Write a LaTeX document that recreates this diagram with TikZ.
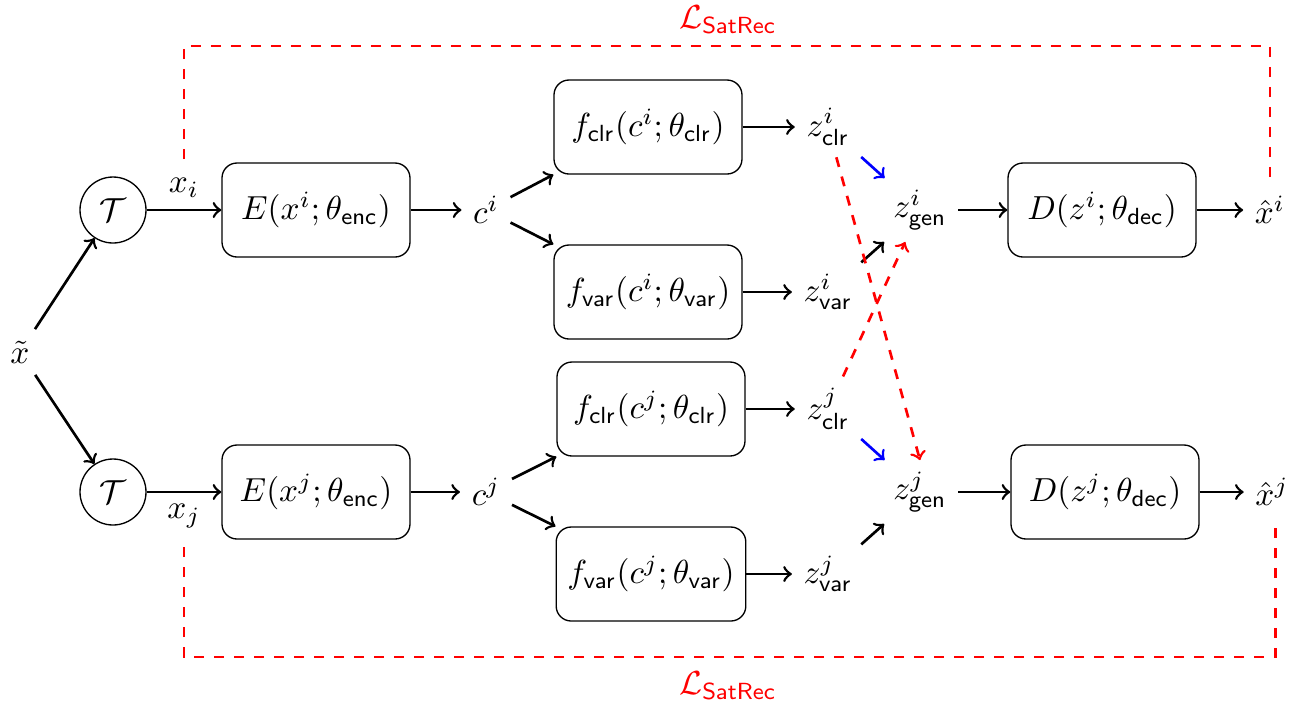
\documentclass[tikz,border=0pt]{standalone}
\usepackage{amsmath}
\begin{document}
\begin{tikzpicture}[x=0.3pt,y=-0.3pt,
  box/.style={draw, rounded corners=4.5pt, minimum width=56.4pt, minimum height=28.2pt, line width=0.4pt},
  circ/.style={draw, circle, minimum size=19.8pt, inner sep=0pt, line width=0.4pt},
  arr/.style={->, line width=0.8pt},
  blarr/.style={->, blue, line width=0.8pt},
  loss/.style={red, dashed, line width=0.8pt},
  lossarr/.style={->, red, dashed, line width=0.8pt}]
\useasboundingbox (0,0) rectangle (1301,701);

\node (xt) at (20,352) {$\tilde{x}$};
\node[circ] (T1) at (113,210) {$\mathcal{T}$};
\node[circ] (T2) at (113,492) {$\mathcal{T}$};

\node[box] (E1) at (316,210) {$E(x^i;\theta_{\mathsf{enc}})$};
\node[box] (E2) at (316,492) {$E(x^j;\theta_{\mathsf{enc}})$};

\node (c1) at (486,210) {$c^i$};
\node (c2) at (486,492) {$c^j$};

\node[box] (fc1) at (648,127) {$f_{\mathsf{clr}}(c^i;\theta_{\mathsf{clr}})$};
\node[box] (fv1) at (648,292) {$f_{\mathsf{var}}(c^i;\theta_{\mathsf{var}})$};
\node[box] (fc2) at (651,409) {$f_{\mathsf{clr}}(c^j;\theta_{\mathsf{clr}})$};
\node[box] (fv2) at (651,574) {$f_{\mathsf{var}}(c^j;\theta_{\mathsf{var}})$};

\node (zc1) at (828,127) {$z^i_{\mathsf{clr}}$};
\node (zv1) at (828,292) {$z^i_{\mathsf{var}}$};
\node (zc2) at (828,409) {$z^j_{\mathsf{clr}}$};
\node (zv2) at (828,574) {$z^j_{\mathsf{var}}$};

\node (zg1) at (920,210) {$z^i_{\mathsf{gen}}$};
\node (zg2) at (920,492) {$z^j_{\mathsf{gen}}$};

\node[box] (D1) at (1102,210) {$D(z^i;\theta_{\mathsf{dec}})$};
\node[box] (D2) at (1105,492) {$D(z^j;\theta_{\mathsf{dec}})$};

\node (xh1) at (1270,210) {$\hat{x}^i$};
\node (xh2) at (1272,492) {$\hat{x}^j$};

\draw[arr] (xt) -- (T1);
\draw[arr] (xt) -- (T2);
\draw[arr] (T1) -- node[above] (xi) {$x_i$} (E1);
\draw[arr] (T2) -- node[below] (xj) {$x_j$} (E2);
\draw[arr] (E1) -- (c1);
\draw[arr] (E2) -- (c2);
\draw[arr] (c1) -- (fc1.south west);
\draw[arr] (c1) -- (fv1.north west);
\draw[arr] (c2) -- (fc2.south west);
\draw[arr] (c2) -- (fv2.north west);
\draw[arr] (fc1) -- (zc1);
\draw[arr] (fv1) -- (zv1);
\draw[arr] (fc2) -- (zc2);
\draw[arr] (fv2) -- (zv2);
\draw[blarr] (zc1) -- (zg1);
\draw[blarr] (zc2) -- (zg2);
\draw[arr] (zv1) -- (zg1);
\draw[arr] (zv2) -- (zg2);
\draw[lossarr] (zc1) -- (zg2.north);
\draw[lossarr] (zc2) -- (zg1);
\draw[arr] (zg1) -- (D1);
\draw[arr] (zg2) -- (D2);
\draw[arr] (D1) -- (xh1);
\draw[arr] (D2) -- (xh2);

\coordinate (tl) at (183,46);
\coordinate (bl) at (183,657);
\draw[loss] ([yshift=2pt]xi.north) -- (xi.north |- tl) -- (xh1.north |- tl) -- ([yshift=2pt]xh1.north);
\draw[loss] ([yshift=-2pt]xj.south) -- (xj.south |- bl) -- ([xshift=1pt]xh2.south |- bl) -- ([xshift=1pt,yshift=-2pt]xh2.south);
\node[red] (L1) at (728,20) {$\mathcal{L}_{\mathsf{SatRec}}$};
\node[red] (L2) at (728,686) {$\mathcal{L}_{\mathsf{SatRec}}$};
\end{tikzpicture}
\end{document}
